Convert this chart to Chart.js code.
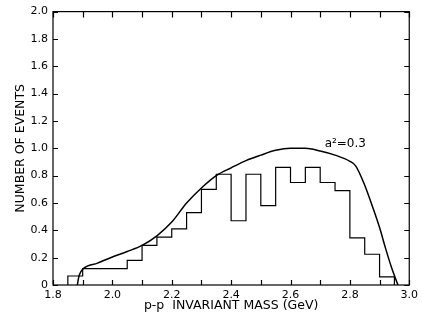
<!DOCTYPE html>
<html>
<head>
<meta charset="utf-8">
<script src="https://cdn.jsdelivr.net/npm/chart.js@4"></script>
<style>
  html, body { margin: 0; padding: 0; background: #fff; }
  #wrap { width: 422px; height: 324px; }
</style>
</head>
<body>
<div id="wrap"><canvas id="canvas" width="422" height="324"></canvas></div>
<script>
// histogram: bins of 0.05 GeV, left edges and heights
const binStarts = [1.85, 1.90, 1.95, 2.00, 2.05, 2.10, 2.15, 2.20, 2.25, 2.30, 2.35,
                   2.40, 2.45, 2.50, 2.55, 2.60, 2.65, 2.70, 2.75, 2.80, 2.85, 2.90];
const binCounts = [0.066, 0.12, 0.12, 0.12, 0.18, 0.29, 0.35, 0.41, 0.53, 0.70, 0.81,
                   0.47, 0.81, 0.58, 0.86, 0.75, 0.86, 0.75, 0.69, 0.345, 0.225, 0.06];
const binWidth = 0.05;

// phase space curve, a^2 = 0.3
const curveMass = [1.882, 1.886, 1.89, 1.90, 1.95, 2.00, 2.05, 2.10, 2.15, 2.20, 2.25, 2.30,
                   2.35, 2.40, 2.45, 2.50, 2.55, 2.60, 2.65, 2.70, 2.75, 2.80, 2.82,
                   2.85, 2.88, 2.90, 2.92, 2.94, 2.962];
const curveValues = [0.0, 0.05, 0.08, 0.115, 0.16, 0.205, 0.245, 0.29, 0.36, 0.46, 0.60, 0.71,
                     0.80, 0.857, 0.91, 0.95, 0.985, 1.0, 1.0, 0.98, 0.95, 0.905, 0.87,
                     0.73, 0.55, 0.42, 0.27, 0.13, 0.0];

const xTickLabels = ['1.8', '2.0', '2.2', '2.4', '2.6', '2.8', '3.0'];
const yTickLabels = ['0', '0.2', '0.4', '0.6', '0.8', '1.0', '1.2', '1.4', '1.6', '1.8', '2.0'];

const curveLabel = 'a\u00B2=0.3';
const FONT = 'DejaVu Sans';

// step outline built from the bins
const histPoints = [{ x: binStarts[0], y: 0 }];
binStarts.forEach((s, i) => histPoints.push({ x: s, y: binCounts[i] }));
histPoints.push({ x: binStarts[binStarts.length - 1] + binWidth, y: 0 });

const curvePoints = curveMass.map((m, i) => ({ x: m, y: curveValues[i] }));

// inward ticks on all four sides, full frame, curve label
const framePlugin = {
  id: 'frame',
  afterDraw(chart) {
    const ctx = chart.ctx;
    const a = chart.chartArea;
    const xs = chart.scales.x, ys = chart.scales.y;
    ctx.save();
    ctx.strokeStyle = '#000';
    ctx.lineWidth = 1.2;
    ctx.strokeRect(a.left, a.top, a.right - a.left, a.bottom - a.top);
    ctx.beginPath();
    xs.ticks.forEach(t => {
      const px = Math.round(xs.getPixelForValue(t.value)) + 0.5;
      ctx.moveTo(px, a.bottom); ctx.lineTo(px, a.bottom - 5);
      ctx.moveTo(px, a.top); ctx.lineTo(px, a.top + 6);
    });
    ys.ticks.forEach(t => {
      const py = Math.round(ys.getPixelForValue(t.value)) + 0.5;
      ctx.moveTo(a.left, py); ctx.lineTo(a.left + 5, py);
      ctx.moveTo(a.right, py); ctx.lineTo(a.right - 5, py);
    });
    ctx.stroke();

    ctx.fillStyle = '#000';
    ctx.font = '12px "' + FONT + '"';
    ctx.textAlign = 'left';
    ctx.textBaseline = 'middle';
    ctx.fillText(curveLabel, xs.getPixelForValue(2.715), ys.getPixelForValue(1.03));
    ctx.restore();
  }
};

const ctx = document.getElementById('canvas').getContext('2d');
new Chart(ctx, {
  type: 'line',
  data: {
    datasets: [{
      label: 'events',
      data: histPoints,
      stepped: 'before',
      borderColor: '#000',
      borderWidth: 1.2,
      pointRadius: 0,
      fill: false
    }, {
      label: curveLabel,
      data: curvePoints,
      borderColor: '#000',
      borderWidth: 1.5,
      pointRadius: 0,
      cubicInterpolationMode: 'monotone',
      fill: false
    }]
  },
  options: {
    responsive: false,
    animation: false,
    layout: { padding: { left: 0, right: 9, top: 5, bottom: 0 } },
    plugins: { legend: { display: false }, tooltip: { enabled: false } },
    scales: {
      x: {
        type: 'linear',
        min: 1.8,
        max: 3.0,
        border: { display: false },
        grid: { display: false, drawTicks: false },
        ticks: {
          stepSize: 0.1,
          autoSkip: false,
          maxRotation: 0,
          padding: 4,
          color: '#000',
          font: { family: FONT, size: 11 },
          callback: (v) => {
            const i = Math.round((v - 1.8) * 5 * 1000) / 1000;
            return Number.isInteger(i) ? xTickLabels[i] : '';
          }
        },
        title: {
          display: true,
          text: 'p-p  INVARIANT MASS (GeV)',
          color: '#000',
          font: { family: FONT, size: 12.5 },
          padding: { top: 0, bottom: 11 }
        },
        afterFit: (s) => { s.height = 39; }
      },
      y: {
        type: 'linear',
        min: 0,
        max: 2.0,
        border: { display: false },
        grid: { display: false, drawTicks: false },
        ticks: {
          stepSize: 0.2,
          padding: 5,
          color: '#000',
          font: { family: FONT, size: 11 },
          callback: (v) => yTickLabels[Math.round(v * 5)]
        },
        title: {
          display: true,
          text: 'NUMBER OF EVENTS',
          color: '#000',
          font: { family: FONT, size: 12.5 },
          padding: { top: 13, bottom: 0 }
        },
        afterFit: (s) => { s.width = 53; }
      }
    }
  },
  plugins: [framePlugin]
});
</script>
</body>
</html>
